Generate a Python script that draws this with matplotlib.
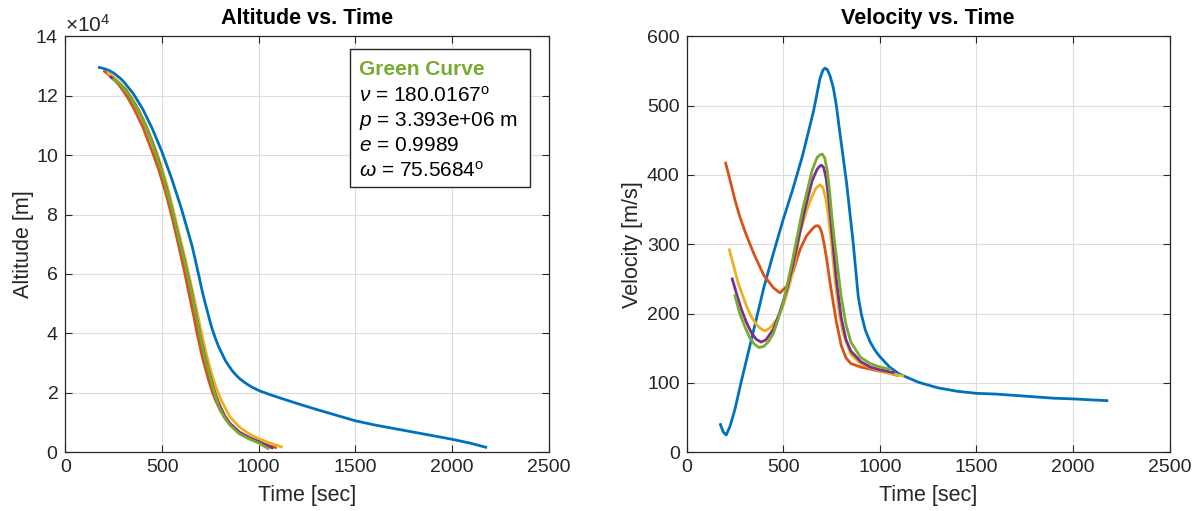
import matplotlib
matplotlib.use("Agg")
import matplotlib.pyplot as plt
from matplotlib.patches import Rectangle

plt.rcParams["font.family"] = ["Liberation Sans", "DejaVu Sans"]
plt.rcParams["mathtext.fontset"] = "custom"
plt.rcParams["mathtext.rm"] = "Liberation Sans"
plt.rcParams["mathtext.it"] = "Liberation Sans:italic"

# MATLAB default colour order
C_BLUE = "#0072BD"
C_ORANGE = "#D95319"
C_YELLOW = "#EDB120"
C_PURPLE = "#7E2F8E"
C_GREEN = "#77AC30"

# --- blue trajectory ---
blue_t = [175, 190, 205, 225, 250, 281, 300, 350, 400, 450, 500, 550, 600, 655, 671, 690,
          705, 716, 728, 742, 759, 775, 793, 828, 862, 888, 905, 925, 950, 975, 1000, 1050,
          1100, 1200, 1300, 1400, 1500, 1600, 1700, 1800, 1900, 2000, 2100, 2175]
blue_alt = [12.95, 12.93, 12.9, 12.85, 12.76, 12.6, 12.48, 12.08, 11.55, 10.88, 10.1, 9.2,
            8.2, 6.95, 6.5, 5.95, 5.5, 5.2, 4.9, 4.55, 4.15, 3.85, 3.55, 3.08, 2.75, 2.56,
            2.46, 2.36, 2.25, 2.16, 2.08, 1.96, 1.85, 1.64, 1.44, 1.25, 1.06, 0.92, 0.8, 0.68,
            0.56, 0.44, 0.3, 0.17]
blue_vel = [40, 29, 25, 38, 62, 100, 122, 180, 238, 288, 336, 380, 428, 490, 512, 539,
            551, 554, 552, 543, 526, 500, 461, 388, 302, 225, 198, 176, 159, 147, 138, 123,
            113, 101, 93, 88, 85, 84, 82, 80, 78, 77, 75.5, 74.5]

# --- orange trajectory ---
orange_t = [202, 225, 250, 275, 300, 325, 350, 400, 450, 483, 520, 550, 586, 620, 650, 665,
            678, 690, 700, 712, 725, 742, 759, 775, 800, 825, 850, 900, 950, 1000, 1050, 1087]
orange_alt = [12.82, 12.7, 12.55, 12.38, 12.15, 11.9, 11.62, 10.95, 10.1, 9.5, 8.7, 7.95,
              6.95, 5.95, 5.0, 4.55, 4.1, 3.75, 3.45, 3.1, 2.8, 2.4, 2.05, 1.78, 1.42, 1.15,
              0.95, 0.64, 0.47, 0.34, 0.23, 0.16]
orange_vel = [417, 392, 364, 340, 320, 302, 285, 255, 237, 230, 240, 260, 292, 312, 322, 326,
              327, 324, 316, 300, 278, 245, 215, 188, 154, 136, 128, 123, 120, 117, 114, 111]

# --- yellow trajectory ---
yellow_t = [221, 245, 267, 290, 311, 336, 362, 385, 405, 430, 466, 500, 535, 560, 586, 620,
            650, 670, 690, 705, 720, 733, 750, 768, 790, 810, 850, 900, 950, 1000, 1050, 1118]
yellow_alt = [12.76, 12.65, 12.52, 12.38, 12.22, 12.0, 11.72, 11.45, 11.18, 10.82, 10.2,
              9.55, 8.75, 8.1, 7.4, 6.5, 5.65, 5.05, 4.45, 4.0, 3.55, 3.2, 2.8, 2.4, 2.0,
              1.7, 1.2, 0.85, 0.62, 0.46, 0.33, 0.18]
yellow_vel = [292, 267, 244, 226, 210, 195, 184, 178, 175, 179, 191, 212, 244, 275, 316, 348,
              370, 381, 386, 382, 366, 342, 300, 248, 200, 172, 141, 128, 122, 118, 114, 110]

# --- purple trajectory ---
purple_t = [236, 260, 285, 310, 336, 360, 385, 410, 448, 480, 518, 550, 578, 610, 650, 675,
            690, 699, 710, 722, 735, 748, 760, 776, 800, 825, 850, 900, 950, 1000, 1069]
purple_alt = [12.62, 12.5, 12.35, 12.2, 11.95, 11.7, 11.4, 11.05, 10.45, 9.85, 9.0, 8.2,
              7.45, 6.6, 5.47, 4.65, 4.15, 3.85, 3.55, 3.22, 2.88, 2.57, 2.3, 1.95, 1.55,
              1.22, 0.98, 0.68, 0.5, 0.36, 0.15]
purple_vel = [250, 227, 205, 187, 172, 163, 159, 162, 177, 200, 234, 270, 307, 348, 392, 408,
              413, 414, 410, 395, 366, 328, 292, 246, 194, 162, 146, 131, 123, 119, 115]

# --- green trajectory ---
green_t = [250, 275, 300, 325, 350, 376, 400, 425, 450, 500, 550, 600, 650, 675, 690, 702,
           714, 728, 740, 750, 762, 775, 800, 825, 850, 900, 950, 1000, 1048]
green_alt = [12.55, 12.42, 12.25, 12.05, 11.8, 11.5, 11.2, 10.82, 10.4, 9.4, 8.2, 6.85,
             5.47, 4.63, 4.15, 3.75, 3.4, 3.03, 2.75, 2.5, 2.22, 1.92, 1.44, 1.15, 0.92,
             0.62, 0.45, 0.31, 0.13]
green_vel = [226, 200, 182, 166, 156, 151, 153, 160, 172, 215, 280, 350, 407, 425, 429, 430,
             425, 406, 376, 345, 312, 282, 224, 184, 159, 137, 128, 123, 120]

curves = [
    (blue_t, blue_alt, blue_vel, C_BLUE),
    (orange_t, orange_alt, orange_vel, C_ORANGE),
    (yellow_t, yellow_alt, yellow_vel, C_YELLOW),
    (purple_t, purple_alt, purple_vel, C_PURPLE),
    (green_t, green_alt, green_vel, C_GREEN),
]

box_lines = [r"$\nu$ = 180.0167$^{\mathrm{o}}$",
             r"$p$ = 3.393e+06 m",
             r"$e$ = 0.9989",
             r"$\omega$ = 75.5684$^{\mathrm{o}}$"]

AX_COLOR = "#262626"
TICK_FS = 14
LABEL_FS = 15.5


def style_axes(ax):
    ax.tick_params(direction="in", length=5, width=0.8, top=True, right=True,
                   labelsize=TICK_FS, colors=AX_COLOR, pad=5)
    for sp in ax.spines.values():
        sp.set_color(AX_COLOR)
        sp.set_linewidth(0.9)
    ax.grid(True, color="#dcdcdc", linewidth=0.8)
    ax.set_axisbelow(True)


fig = plt.figure(figsize=(11.95, 5.11), dpi=100)
ax1 = fig.add_axes([0.0548, 0.1149, 0.4042, 0.8141])
ax2 = fig.add_axes([0.5746, 0.1149, 0.4042, 0.8141])

for t, alt, vel, c in curves:
    ax1.plot(t, [a * 1e4 for a in alt], color=c, linewidth=2)
    ax2.plot(t, vel, color=c, linewidth=2)

ax1.set_xlim(0, 2500)
ax1.set_ylim(0, 140000)
ax1.set_xticks([0, 500, 1000, 1500, 2000, 2500])
ax1.set_yticks(range(0, 140001, 20000))
ax1.ticklabel_format(axis="y", style="sci", scilimits=(4, 4), useMathText=True)
ax1.yaxis.get_offset_text().set_fontsize(15)
ax1.yaxis.get_offset_text().set_color(AX_COLOR)
style_axes(ax1)
ax1.set_title("Altitude vs. Time", fontsize=LABEL_FS, fontweight="bold", pad=9)
ax1.set_xlabel("Time [sec]", fontsize=LABEL_FS, color=AX_COLOR, labelpad=6)
ax1.set_ylabel("Altitude [m]", fontsize=LABEL_FS, color=AX_COLOR, labelpad=1)

ax2.set_xlim(0, 2500)
ax2.set_ylim(0, 600)
ax2.set_xticks([0, 500, 1000, 1500, 2000, 2500])
ax2.set_yticks(range(0, 601, 100))
style_axes(ax2)
ax2.set_title("Velocity vs. Time", fontsize=LABEL_FS, fontweight="bold", pad=9)
ax2.set_xlabel("Time [sec]", fontsize=LABEL_FS, color=AX_COLOR, labelpad=6)
ax2.set_ylabel("Velocity [m/s]", fontsize=LABEL_FS, color=AX_COLOR, labelpad=3)

# info box
ax1.add_patch(Rectangle((0.588, 0.638), 0.373, 0.331, transform=ax1.transAxes,
                        facecolor="white", edgecolor=AX_COLOR, linewidth=1, zorder=5))
ax1.text(0.607, 0.92, "Green Curve", transform=ax1.transAxes, color=C_GREEN,
         fontsize=15, fontweight="bold", va="center", zorder=6)
for i, s in enumerate(box_lines):
    ax1.text(0.607, 0.857 - i * 0.06, s, transform=ax1.transAxes, color="black",
             fontsize=15, va="center", zorder=6)

fig.savefig("out.png", dpi=100)
